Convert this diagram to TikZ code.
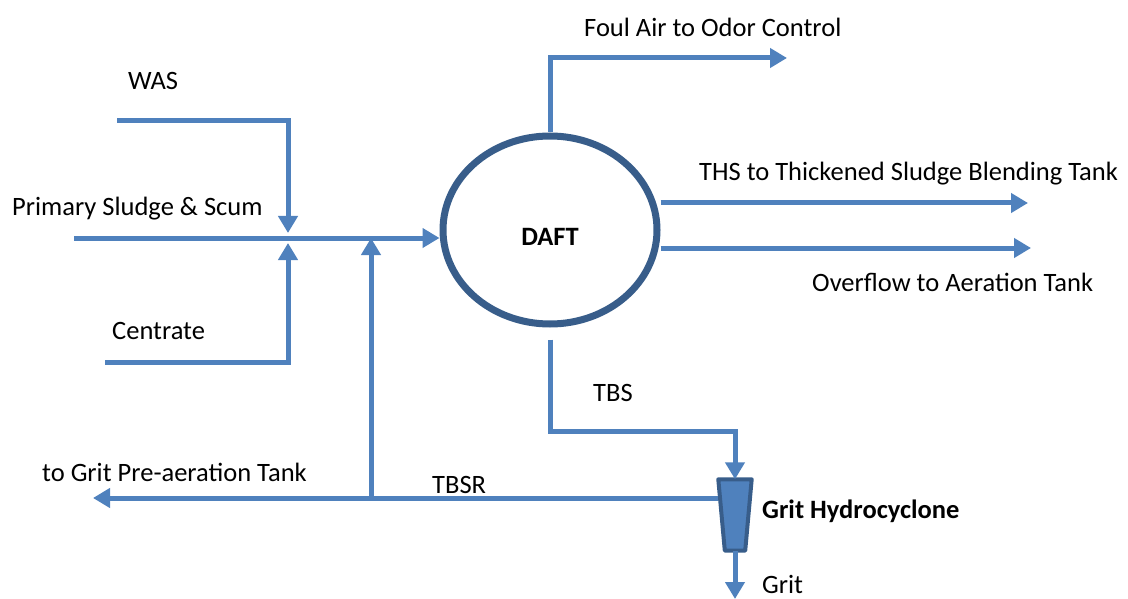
\documentclass[tikz,border=0pt]{standalone}
\usepackage{fontspec}
\setmainfont{Carlito}
\usetikzlibrary{arrows.meta,shapes.geometric}
\definecolor{flowblue}{HTML}{4F81BD}
\definecolor{edgeblue}{HTML}{385D8A}
\newcommand{\lblfont}{\fontsize{26.5}{30}\selectfont}
\tikzset{
  flow/.style={draw=flowblue,line width=5pt},
  flowarrow/.style={flow,-{Triangle[length=17pt,width=19pt]}},
  lbl/.style={inner sep=0pt,anchor=base west},
}

\begin{document}
\begin{tikzpicture}[x=1pt,y=-1pt,font=\lblfont]
\useasboundingbox (0,0) rectangle (1128,599);
% units and streams
\node[ellipse,draw=edgeblue,line width=7pt,minimum width=214pt,minimum height=188pt] (daft) at (550,230) {};
\node[font=\lblfont\bfseries] (daftlbl) at ([yshift=-7pt]daft.center) {DAFT};
\node[minimum width=33pt,minimum height=71pt,inner sep=0pt] (hc) at (735,515) {};
\draw[edgeblue,fill=flowblue,line width=4pt,line join=round] (hc.north west) -- (hc.north east)
  -- ([xshift=-6.5pt]hc.south east) -- ([xshift=6.5pt]hc.south west) -- cycle;
\coordinate (was) at (117,121);
\coordinate (ps) at (74,238);
\coordinate (cen) at (105,362);
\coordinate (mix) at (288,238);
\coordinate (ret) at (371,238);
\coordinate (foul) at (787,58);
\coordinate (ths) at (1028,203);
\coordinate (ovf) at (1031,248);
\coordinate (pre) at (93,498);
\coordinate (grit) at (735,599);
\draw[flowarrow] (ps) -- (ps -| daft.west);
\draw[flowarrow] (was) -| ([yshift=5pt]mix);
\draw[flowarrow] (cen) -| ([yshift=-5pt]mix);
\draw[flowarrow] (ret |- pre) -- (ret);
\draw[flowarrow] (daft.north) |- (foul);
\draw[flowarrow] (daft.east |- ths) -- (ths);
\draw[flowarrow] (daft.east |- ovf) -- (ovf);
\draw[flowarrow] ([yshift=-12pt]daft.south) -- ++(0,92) -| (hc.north);
\draw[flowarrow] (pre -| hc.west) -- (pre);
\draw[flowarrow] (hc.south) -- (grit);
% labels
\node[lbl] (waslbl) at (128,90) {WAS};
\node[lbl] (pslbl) at (12,215) {Primary Sludge \& Scum};
\node[lbl] (cenlbl) at (112,339) {Centrate};
\node[lbl] (foullbl) at (584,37) {Foul Air to Odor Control};
\node[lbl] (thslbl) at (699,181) {THS to Thickened Sludge Blending Tank};
\node[lbl] (ovflbl) at (812,291) {Overflow to Aeration Tank};
\node[lbl] (tbslbl) at (593,401) {TBS};
\node[lbl] (prelbl) at (42,481) {to Grit Pre-aeration Tank};
\node[lbl] (tbsrlbl) at (432,493) {TBSR};
\node[lbl,font=\lblfont\bfseries] (hclbl) at (762,518) {Grit Hydrocyclone};
\node[lbl] (gritlbl) at (762,593) {Grit};
\end{tikzpicture}
\end{document}
